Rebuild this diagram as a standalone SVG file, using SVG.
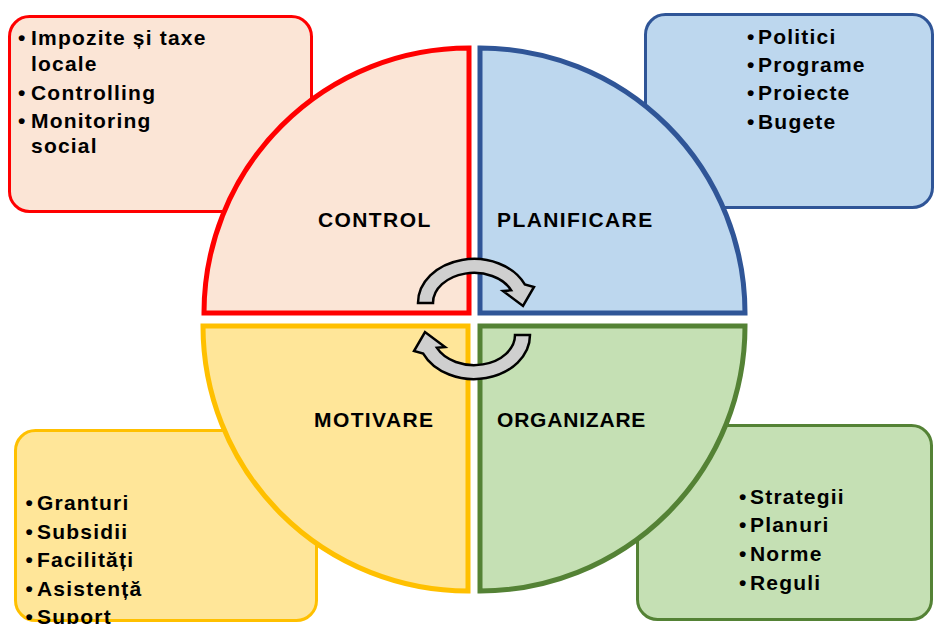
<svg xmlns="http://www.w3.org/2000/svg" width="934" height="624" viewBox="0 0 934 624">
<defs>
<style>
.t{font-family:"Liberation Sans",Arial,sans-serif;font-weight:bold;font-size:21px;fill:#000;letter-spacing:1.2px}
.lbl{font-family:"Liberation Sans",Arial,sans-serif;font-weight:bold;font-size:21px;fill:#000;letter-spacing:1.4px}
.box{stroke-width:3}
.sec{stroke-width:5;stroke-linejoin:miter}
.arr{fill:#CFCFCF;stroke:#000;stroke-width:2.5;stroke-linejoin:miter}
</style>
<path id="cyc" d="M418 303 A56 44 0 0 1 524.8 284.4 L534 287 L523 306 L503 291 L511.2 290.3 A41 30 0 0 0 433 303 Z"/>
</defs>
<rect width="934" height="624" fill="#fff"/>
<g id="box-control">
<rect class="box" x="9.5" y="16.5" width="302" height="195" rx="20" fill="#FBE5D6" stroke="#FF0000"/>
<text class="t"><tspan x="18" y="45">•</tspan><tspan x="31" y="45">Impozite și taxe</tspan><tspan x="31" y="70.5">locale</tspan><tspan x="18" y="100">•</tspan><tspan x="31" y="100">Controlling</tspan><tspan x="18" y="128">•</tspan><tspan x="31" y="128">Monitoring</tspan><tspan x="31" y="152.5">social</tspan></text>
</g>
<g id="box-planificare">
<rect class="box" x="645.5" y="14.5" width="287" height="193" rx="20" fill="#BDD7EE" stroke="#2F5597"/>
<text class="t"><tspan x="747" y="43.5">•</tspan><tspan x="758" y="43.5">Politici</tspan><tspan x="747" y="72">•</tspan><tspan x="758" y="72">Programe</tspan><tspan x="747" y="100">•</tspan><tspan x="758" y="100">Proiecte</tspan><tspan x="747" y="129">•</tspan><tspan x="758" y="129">Bugete</tspan></text>
</g>
<g id="box-motivare">
<rect class="box" x="15.5" y="430.5" width="301" height="190" rx="20" fill="#FFE699" stroke="#FFC000"/>
<text class="t"><tspan x="25.5" y="510">•</tspan><tspan x="37" y="510">Granturi</tspan><tspan x="25.5" y="538.5">•</tspan><tspan x="37" y="538.5">Subsidii</tspan><tspan x="25.5" y="567">•</tspan><tspan x="37" y="567">Facilități</tspan><tspan x="25.5" y="595.5">•</tspan><tspan x="37" y="595.5">Asistență</tspan><tspan x="25.5" y="624">•</tspan><tspan x="37" y="624">Suport</tspan></text>
</g>
<g id="box-organizare">
<rect class="box" x="637.5" y="425.5" width="294" height="194" rx="20" fill="#C5E0B4" stroke="#548235"/>
<text class="t"><tspan x="739" y="503.5">•</tspan><tspan x="750" y="503.5">Strategii</tspan><tspan x="739" y="532">•</tspan><tspan x="750" y="532">Planuri</tspan><tspan x="739" y="560.5">•</tspan><tspan x="750" y="560.5">Norme</tspan><tspan x="739" y="590">•</tspan><tspan x="750" y="590">Reguli</tspan></text>
</g>
<g id="control">
<path class="sec" d="M469 313 L204 313 A265 265 0 0 1 469 48 Z" fill="#FBE5D6" stroke="#FF0000"/>
<text class="lbl" x="318" y="226.5">CONTROL</text>
</g>
<g id="planificare">
<path class="sec" d="M480 313 L480 48 A265 265 0 0 1 745 313 Z" fill="#BDD7EE" stroke="#2F5597"/>
<text class="lbl" x="497" y="226.5">PLANIFICARE</text>
</g>
<g id="motivare">
<path class="sec" d="M468 326 L468 591 A265 265 0 0 1 203 326 Z" fill="#FFE699" stroke="#FFC000"/>
<text class="lbl" x="314" y="427">MOTIVARE</text>
</g>
<g id="organizare">
<path class="sec" d="M480 326 L745 326 A265 265 0 0 1 480 591 Z" fill="#C5E0B4" stroke="#548235"/>
<text class="lbl" x="497" y="427" style="letter-spacing:0.8px">ORGANIZARE</text>
</g>
<g id="connectors">
<use href="#cyc" class="arr"/>
<use href="#cyc" class="arr" transform="rotate(180 474 319)"/>
</g>
</svg>
